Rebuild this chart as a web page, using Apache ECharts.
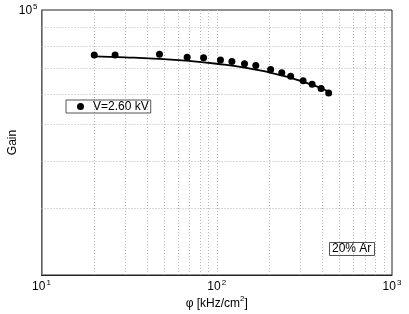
<!DOCTYPE html>
<html>
<head>
<meta charset="utf-8">
<script src="https://cdn.jsdelivr.net/npm/echarts@6/dist/echarts.min.js"></script>
<style>html,body{margin:0;padding:0;background:#fff}#c{width:409px;height:314px}</style>
</head>
<body>
<div id="c"></div>
<script>
// measured points (phi in kHz/cm^2, gain)
const phiData = [20, 26.3, 47.1, 67.8, 84.1, 105, 122, 144, 167, 203, 235, 264, 311, 350, 394, 435];
const gainData = [76100, 76100, 76450, 75100, 74850, 73850, 73100, 72100, 71350, 69650, 68300, 66900, 65050, 63750, 62070, 60360];
// fitted curve
const fitPhi = [20, 30, 50, 70, 100, 150, 200, 250, 300, 350, 400, 445];
const fitGain = [75450, 75000, 74200, 73400, 72150, 70300, 68400, 66700, 65000, 63500, 62000, 60600];
// grid line positions
const gridX = [20, 30, 40, 50, 60, 70, 80, 90, 100, 200, 300, 400, 500, 600, 700, 800, 900];
const gridY = [30000, 40000, 50000, 60000, 70000, 80000, 90000];
const seriesName = 'V=2.60 kV';
const noteText = '20% Ar';

const FONT = 'Liberation Sans, Arial, sans-serif';
function powLabel(value) {
  const e = Math.round(Math.log10(value));
  if (Math.abs(value - Math.pow(10, e)) > 1e-6 * value) return '';
  return '{b|10}{s|' + e + '}';
}
const richPow = {
  b: { fontSize: 12, fontFamily: FONT, color: '#000', lineHeight: 14, verticalAlign: 'bottom' },
  s: { fontSize: 8, fontFamily: FONT, color: '#000', lineHeight: 14, verticalAlign: 'top', padding: [0, 0, 6, 1] }
};

const chart = echarts.init(document.getElementById('c'), null, { renderer: 'canvas' });
const gridLineStyle = { color: '#b4b4b4', type: [1, 2], width: 1 };
chart.setOption({
  animation: false,
  backgroundColor: '#fff',
  grid: { left: 41.5, right: 17, top: 10, bottom: 39, show: true, borderColor: '#222', borderWidth: 1, containLabel: false, outerBoundsMode: 'none' },
  title: {
    text: noteText, left: 329, top: 242,
    borderColor: '#555', borderWidth: 1, padding: [1, 3, 1, 3],
    textStyle: { fontSize: 12, fontWeight: 'normal', fontFamily: FONT, color: '#000' }
  },
  legend: {
    data: [seriesName], left: 66, top: 100, orient: 'horizontal',
    borderColor: '#555', borderWidth: 1, padding: [0, 2, 0, 11],
    icon: 'circle', itemWidth: 7, itemHeight: 7,
    itemStyle: { color: '#000', opacity: 1 },
    textStyle: { fontSize: 12, fontFamily: FONT, color: '#000', padding: [0, 0, 0, 4], lineHeight: 13 }
  },
  xAxis: {
    type: 'log', logBase: 10, min: 10, max: 1000,
    name: '{t|φ [kHz/cm}{s|2}{t|]}', nameLocation: 'middle', nameGap: 20, nameMoveOverlap: false,
    nameTextStyle: {
      rich: {
        t: { fontSize: 12, fontFamily: FONT, color: '#000', lineHeight: 15, verticalAlign: 'bottom' },
        s: { fontSize: 8, fontFamily: FONT, color: '#000', lineHeight: 15, verticalAlign: 'top', padding: [0, 0, 6, 0] }
      }
    },
    axisLine: { show: true, lineStyle: { color: '#222', width: 1 } },
    axisTick: { show: false },
    splitLine: { show: false },
    axisLabel: { formatter: powLabel, rich: richPow, margin: 4, showMinLabel: true, showMaxLabel: true }
  },
  yAxis: {
    type: 'log', logBase: 10, min: 20000, max: 100000,
    name: 'Gain', nameLocation: 'middle', nameGap: 23, nameMoveOverlap: false,
    nameTextStyle: { fontSize: 12, fontFamily: FONT, color: '#000' },
    axisLine: { show: true, lineStyle: { color: '#777', width: 1.5 } },
    axisTick: { show: false },
    splitLine: { show: false },
    axisLabel: { formatter: powLabel, rich: richPow, margin: 4, showMinLabel: false, showMaxLabel: true }
  },
  series: [
    {
      name: 'fit', type: 'line', smooth: true, showSymbol: false, symbol: 'none',
      data: fitPhi.map((p, i) => [p, fitGain[i]]),
      lineStyle: { color: '#000', width: 1.8 }, z: 3,
      markLine: {
        silent: true, symbol: 'none', label: { show: false }, z: 1,
        lineStyle: gridLineStyle, animation: false,
        data: gridX.map(v => ({ xAxis: v })).concat(gridY.map(v => ({ yAxis: v })))
      }
    },
    {
      name: seriesName, type: 'scatter', symbol: 'circle', symbolSize: 7,
      data: phiData.map((p, i) => [p, gainData[i]]),
      itemStyle: { color: '#000', opacity: 1 }, z: 4
    }
  ]
});
</script>
</body>
</html>
